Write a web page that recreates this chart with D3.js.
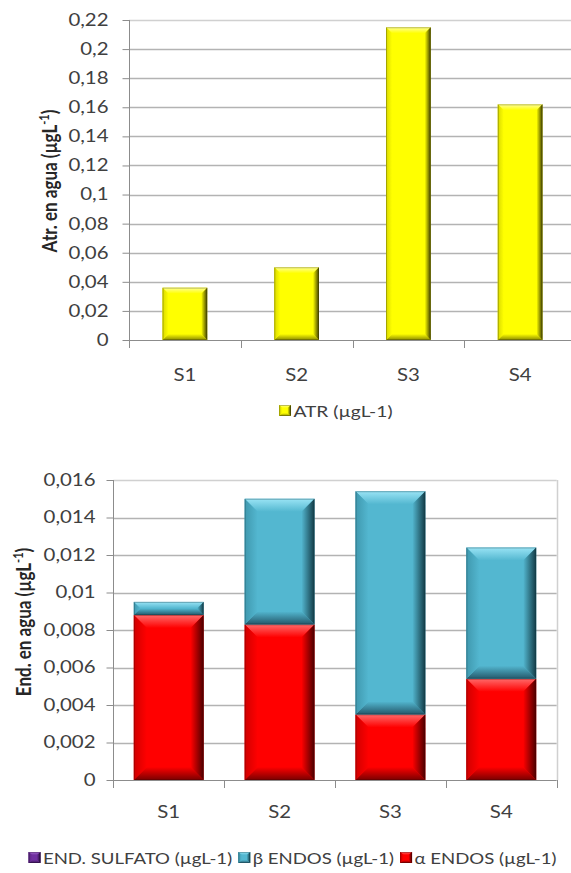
<!DOCTYPE html>
<html>
<head>
<meta charset="utf-8">
<script src="https://cdn.jsdelivr.net/npm/d3@7"></script>
<style>
  html, body { margin: 0; padding: 0; background: #fff; }
  svg { display: block; font-family: Lato, "Open Sans", sans-serif; }
</style>
</head>
<body>
<svg id="chart" width="571" height="873"></svg>
<script>
// Sampling sites
const categories = ["S1", "S2", "S3", "S4"];

// Atrazine in water (µg/L)
const atrValues = [0.036, 0.05, 0.215, 0.162];
const atrTickValues = [0, 0.02, 0.04, 0.06, 0.08, 0.1, 0.12, 0.14, 0.16, 0.18, 0.2, 0.22];
const atrTickLabels = ["0", "0,02", "0,04", "0,06", "0,08", "0,1", "0,12", "0,14", "0,16", "0,18", "0,2", "0,22"];

// Endosulfan in water (µg/L), stacked: alpha, beta, sulfate
const alphaValues = [0.0088, 0.0083, 0.0035, 0.0054];
const betaValues = [0.0007, 0.0067, 0.0119, 0.0070];
const sulfatoValues = [0, 0, 0, 0];
const endTickValues = [0, 0.002, 0.004, 0.006, 0.008, 0.01, 0.012, 0.014, 0.016];
const endTickLabels = ["0", "0,002", "0,004", "0,006", "0,008", "0,01", "0,012", "0,014", "0,016"];

const svg = d3.select("#chart");
const defs = svg.append("defs");

// Text is drawn slightly wide
const SX = 1.2;
function widen(sel) {
  sel.each(function () {
    const x = +this.getAttribute("x") || 0;
    this.setAttribute("transform", `translate(${-(SX - 1) * x},0) scale(${SX},1)`);
  });
}

// Bevel palettes: base, light (top edge), shade (left edge), dark (right edge), deep (bottom edge)
const palettes = {
  yellow: { base: "#ffff00", light: "#ffff9a", shade: "#d9d900", dark: "#3d3d00", deep: "#8c8c00" },
  blue:   { base: "#53b7d0", light: "#9ae4f5", shade: "#3f98ae", dark: "#123a45", deep: "#24586a" },
  red:    { base: "#ff0000", light: "#ff6a6a", shade: "#d00000", dark: "#4a0000", deep: "#7a0000" },
  purple: { base: "#7030a0", light: "#a870d0", shade: "#5a2680", dark: "#200a30", deep: "#3a1555" }
};

Object.entries(palettes).forEach(([key, p]) => {
  const grad = (id, x2, y2, c1, c2) => {
    const g = defs.append("linearGradient").attr("id", id)
      .attr("x1", 0).attr("y1", 0).attr("x2", x2).attr("y2", y2);
    g.append("stop").attr("offset", "0%").attr("stop-color", c1);
    g.append("stop").attr("offset", "100%").attr("stop-color", c2);
  };
  grad(`${key}-top`, 0, 1, p.light, p.base);
  grad(`${key}-left`, 1, 0, p.shade, p.base);
  grad(`${key}-right`, 1, 0, p.base, p.dark);
  grad(`${key}-bottom`, 0, 1, p.base, p.deep);
});

// Draw a bevelled rectangle (flat face plus four edge facets)
function bevelRect(g, key, x, y, w, h, bevel) {
  const b = Math.max(0, Math.min(bevel, h / 2, w / 2));
  const p = palettes[key];
  g.append("rect").attr("x", x).attr("y", y).attr("width", w).attr("height", h).attr("fill", p.base);
  const poly = (pts, fill) => g.append("polygon")
    .attr("points", pts.map(d => d.join(",")).join(" ")).attr("fill", fill);
  if (b > 0) {
    poly([[x, y], [x + w, y], [x + w - b, y + b], [x + b, y + b]], `url(#${key}-top)`);
    poly([[x, y + h], [x + b, y + h - b], [x + w - b, y + h - b], [x + w, y + h]], `url(#${key}-bottom)`);
    poly([[x, y], [x + b, y + b], [x + b, y + h - b], [x, y + h]], `url(#${key}-left)`);
    poly([[x + w, y], [x + w, y + h], [x + w - b, y + h - b], [x + w - b, y + b]], `url(#${key}-right)`);
  }
  g.append("rect").attr("x", x + 0.5).attr("y", y + 0.5).attr("width", Math.max(0, w - 1)).attr("height", Math.max(0, h - 1))
    .attr("fill", "none").attr("stroke", p.dark).attr("stroke-opacity", 0.35).attr("stroke-width", 1);
}

const tickColor = "#404040";
const titleColor = "#262626";
const gridColor = "#b3b3b3";
const axisColor = "#8c8c8c";

// ---------- Chart 1: atrazine ----------
{
  const left = 129, right = 576, top = 20, bottom = 340, clipRight = 571;
  const x = d3.scaleBand().domain(categories).range([left, right]).paddingInner(0.6).paddingOuter(0.3);
  const y = d3.scaleLinear().domain([0, 0.22]).range([bottom, top]);
  const g = svg.append("g");

  g.selectAll(".grid").data(atrTickValues.filter(v => v > 0)).join("line")
    .attr("x1", left).attr("x2", clipRight)
    .attr("y1", d => Math.round(y(d)) + 0.5).attr("y2", d => Math.round(y(d)) + 0.5)
    .attr("stroke", d => d === 0.22 ? "#d0d0d0" : gridColor).attr("stroke-width", 1.5);

  const yAxis = g.append("g").attr("transform", `translate(${left + 0.5},0)`)
    .call(d3.axisLeft(y).tickValues(atrTickValues).tickSize(7).tickPadding(14)
      .tickFormat((d, i) => atrTickLabels[i]));
  yAxis.select(".domain").remove();
  yAxis.selectAll(".tick line").attr("stroke", axisColor);
  yAxis.selectAll(".tick text").attr("fill", tickColor).style("font-size", "17px").style("font-family", "Lato").call(widen);

  // Bars
  const bars = g.append("g");
  categories.forEach((c, i) => {
    const v = atrValues[i];
    bevelRect(bars, "yellow", x(c), y(v), x.bandwidth(), y(0) - y(v), 6);
  });

  // Axis lines
  g.append("line").attr("x1", left + 0.5).attr("x2", left + 0.5).attr("y1", top).attr("y2", bottom + 8)
    .attr("stroke", axisColor).attr("stroke-width", 1);
  g.append("line").attr("x1", left).attr("x2", clipRight).attr("y1", bottom + 0.5).attr("y2", bottom + 0.5)
    .attr("stroke", axisColor).attr("stroke-width", 1);
  const step = x.step();
  g.selectAll(".cat-tick").data(d3.range(1, categories.length)).join("line")
    .attr("x1", i => Math.round(left + i * step) + 0.5).attr("x2", i => Math.round(left + i * step) + 0.5)
    .attr("y1", bottom).attr("y2", bottom + 8).attr("stroke", axisColor);

  const xAxis = g.append("g").attr("transform", `translate(0,${bottom})`)
    .call(d3.axisBottom(x).tickSize(0).tickPadding(29));
  xAxis.select(".domain").remove();
  xAxis.selectAll(".tick text").attr("fill", tickColor).style("font-size", "17px").style("font-family", "Lato").call(widen);

  // Axis title
  const t = g.append("text").attr("transform", `translate(57,181) scale(${SX},1) rotate(-90)`)
    .attr("text-anchor", "middle").attr("fill", titleColor)
    .style("font-size", "17px").style("font-weight", "bold");
  t.append("tspan").text("Atr. en agua (µgL");
  t.append("tspan").text("-1").attr("dy", -7).style("font-size", "11px");
  t.append("tspan").text(")").attr("dy", 7);

  // Legend
  const lg = g.append("g").attr("transform", `translate(279,405) scale(${SX},1)`);
  bevelRect(lg, "yellow", 0, 0, 10, 11, 3);
  lg.append("text").attr("x", 12).attr("y", 12).attr("fill", tickColor)
    .style("font-size", "16px").text("ATR (µgL-1)");
}

// ---------- Chart 2: endosulfan (stacked) ----------
{
  const left = 113.3, right = 556.7, top = 480, bottom = 780;
  const x = d3.scaleBand().domain(categories).range([left, right]).paddingInner(0.37).paddingOuter(0.185);
  const y = d3.scaleLinear().domain([0, 0.016]).range([bottom, top]);
  const g = svg.append("g");

  const rows = categories.map((c, i) => ({ cat: c, alpha: alphaValues[i], beta: betaValues[i], sulfato: sulfatoValues[i] }));
  const stack = d3.stack().keys(["alpha", "beta", "sulfato"])(rows);
  const colorKey = { alpha: "red", beta: "blue", sulfato: "purple" };

  g.selectAll(".grid").data(endTickValues.filter(v => v > 0)).join("line")
    .attr("x1", left).attr("x2", right)
    .attr("y1", d => Math.round(y(d)) + 0.5).attr("y2", d => Math.round(y(d)) + 0.5)
    .attr("stroke", d => d === 0.016 ? "#d0d0d0" : gridColor).attr("stroke-width", 1.5);
  // Plot area right border
  g.append("line").attr("x1", Math.round(right) + 0.5).attr("x2", Math.round(right) + 0.5)
    .attr("y1", top).attr("y2", bottom).attr("stroke", "#d0d0d0").attr("stroke-width", 1.5);

  const yAxis = g.append("g").attr("transform", `translate(${Math.round(left) + 0.5},0)`)
    .call(d3.axisLeft(y).tickValues(endTickValues).tickSize(7).tickPadding(11)
      .tickFormat((d, i) => endTickLabels[i]));
  yAxis.select(".domain").remove();
  yAxis.selectAll(".tick line").attr("stroke", axisColor);
  yAxis.selectAll(".tick text").attr("fill", tickColor).style("font-size", "17px").style("font-family", "Lato").call(widen);

  const bars = g.append("g");
  stack.forEach(layer => {
    layer.forEach(seg => {
      const h = y(seg[0]) - y(seg[1]);
      if (h <= 0) return;
      bevelRect(bars, colorKey[layer.key], x(seg.data.cat), y(seg[1]), x.bandwidth(), h, 13);
    });
  });

  g.append("line").attr("x1", Math.round(left) + 0.5).attr("x2", Math.round(left) + 0.5).attr("y1", top).attr("y2", bottom + 8)
    .attr("stroke", axisColor);
  g.append("line").attr("x1", left).attr("x2", right).attr("y1", bottom + 0.5).attr("y2", bottom + 0.5)
    .attr("stroke", axisColor);
  const step = x.step();
  g.selectAll(".cat-tick").data(d3.range(1, categories.length + 1)).join("line")
    .attr("x1", i => Math.round(left + i * step) + 0.5).attr("x2", i => Math.round(left + i * step) + 0.5)
    .attr("y1", bottom).attr("y2", bottom + 8).attr("stroke", axisColor);

  const xAxis = g.append("g").attr("transform", `translate(0,${bottom})`)
    .call(d3.axisBottom(x).tickSize(0).tickPadding(26));
  xAxis.select(".domain").remove();
  xAxis.selectAll(".tick text").attr("fill", tickColor).style("font-size", "17px").style("font-family", "Lato").call(widen);

  const t = g.append("text").attr("transform", `translate(31,622) scale(${SX},1) rotate(-90)`)
    .attr("text-anchor", "middle").attr("fill", titleColor)
    .style("font-size", "17px").style("font-weight", "bold");
  t.append("tspan").text("End. en agua (µgL");
  t.append("tspan").text("-1").attr("dy", -7).style("font-size", "11px");
  t.append("tspan").text(")").attr("dy", 7);

  // Legend
  const items = [
    { key: "purple", label: "END. SULFATO (µgL-1)" },
    { key: "blue", label: "β ENDOS (µgL-1)" },
    { key: "red", label: "α ENDOS (µgL-1)" }
  ];
  const lg = g.append("g");
  let cx = 0;
  items.forEach(it => {
    const ig = lg.append("g").attr("transform", `translate(${cx},0)`);
    bevelRect(ig, it.key, 0, 0, 10, 11, 3);
    const tx = ig.append("text").attr("x", 12).attr("y", 12).attr("fill", tickColor)
      .style("font-size", "15.5px").text(it.label);
    cx += 12 + tx.node().getComputedTextLength() + 5;
  });
  const total = (cx - 5) * SX;
  lg.attr("transform", `translate(${(28 + 557) / 2 - total / 2},852) scale(${SX},1)`);
}
</script>
</body>
</html>
